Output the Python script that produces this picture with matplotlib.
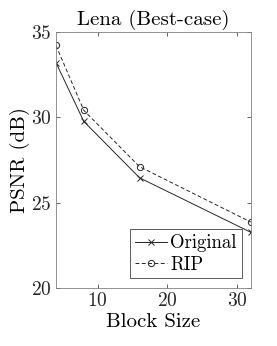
import numpy as np
import matplotlib
matplotlib.use("Agg")
from matplotlib import pyplot as plt

block_size = [4, 8, 16, 32]
psnr_original = [33.2, 29.75, 26.45, 23.25]
psnr_rip = [34.2, 30.4, 27.1, 23.85]

plt.rcParams['font.family'] = 'serif'
plt.rcParams['font.serif'] = ['cmr10']
plt.rcParams['mathtext.fontset'] = 'cm'
plt.rcParams['axes.formatter.use_mathtext'] = True

fig = plt.figure(figsize=(2.77, 3.46), dpi=100)
ax = fig.add_axes([0.202, 0.168, 0.704, 0.74])

ax.plot(block_size, psnr_original, '-x', color='#262626', lw=0.7,
        markersize=4.5, markeredgewidth=0.7, label='Original')
ax.plot(block_size, psnr_rip, '--o', color='#262626', lw=0.7,
        markersize=4.5, markeredgewidth=0.7, markerfacecolor='none',
        dashes=(4, 2.5), label='RIP')

ax.set_xlim(4, 32)
ax.set_ylim(20, 35)
ax.set_xticks([10, 20, 30])
ax.set_yticks([20, 25, 30, 35])
ax.tick_params(direction='in', top=True, right=True, labelsize=14,
               length=3, width=0.5, colors='#262626', pad=3)
for s in ax.spines.values():
    s.set_linewidth(0.6)
    s.set_color('#808080')

ax.set_title('Lena (Best-case)', fontsize=15, pad=5)
ax.set_xlabel('Block Size', fontsize=15, labelpad=2)
ax.set_ylabel('PSNR (dB)', fontsize=15, labelpad=1)

leg = ax.legend(loc='lower right', fontsize=13.5, handlelength=1.7,
                handletextpad=0.2, borderpad=0.25, labelspacing=0.2,
                fancybox=False, framealpha=1, borderaxespad=0.5)
leg.get_frame().set_edgecolor('#404040')
leg.get_frame().set_linewidth(0.6)

fig.savefig('out.png', dpi=100)
